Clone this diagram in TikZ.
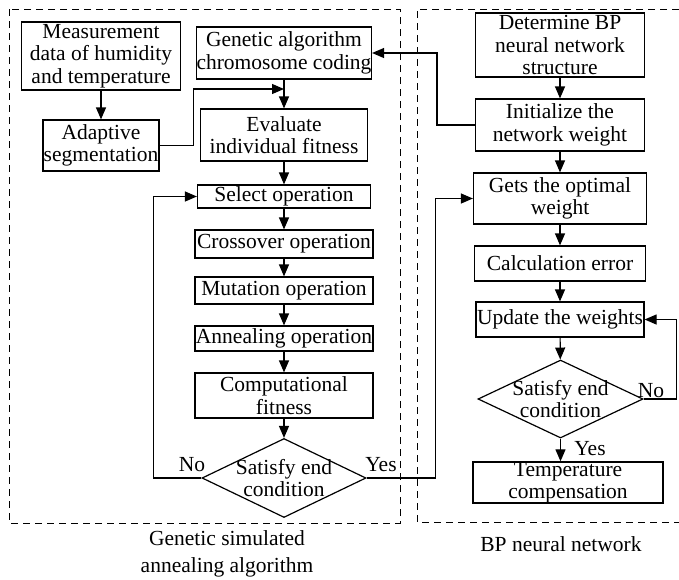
\documentclass[tikz,border=0pt]{standalone}
\usepackage{fontspec}
\setmainfont{Liberation Serif}
\usepackage{xcolor}
\usetikzlibrary{arrows.meta,shapes.geometric}

\begin{document}
\begin{tikzpicture}[x=1pt,y=-1pt,line width=1.2pt,>={Triangle[length=12pt,width=10pt]},
  every node/.style={font=\fontsize{21.5pt}{22.5pt}\selectfont},
  stepbox/.style={draw,align=center,inner sep=0pt},
  checkbox/.style={draw,diamond,align=center,inner sep=-8pt,aspect=2.08,minimum width=164pt,minimum height=79pt},
  answer/.style={inner sep=0pt},
  groupline/.style={line width=0.9pt,dash pattern=on 7pt off 5pt}]

\useasboundingbox (0,0) rectangle (679,579);

% 1
\node[stepbox,minimum width=159pt,minimum height=68pt] (GeneticA) at (101,56) {Measurement\\data of humidity\\and temperature};
\node[stepbox,minimum width=116pt,minimum height=51pt] (GeneticB) at (101,145.5) {Adaptive\\segmentation};
\node[stepbox,minimum width=175pt,minimum height=52pt] (GeneticC) at (284,53) {Genetic algorithm\\chromosome coding};
\node[stepbox,minimum width=167pt,minimum height=52pt] (GeneticD) at (284,135) {Evaluate\\individual fitness};
\node[stepbox,minimum width=173pt,minimum height=23pt] (GeneticE) at (284,196.5) {Select operation};
\node[stepbox,minimum width=178pt,minimum height=28pt] (GeneticF) at (284,244) {Crossover operation};
\node[stepbox,minimum width=178pt,minimum height=27pt] (GeneticG) at (284,290.5) {Mutation operation};
\node[stepbox,minimum width=178pt,minimum height=25pt] (GeneticH) at (284,338.5) {Annealing operation};
\node[stepbox,minimum width=178pt,minimum height=45pt] (GeneticI) at (284,395.5) {Computational\\fitness};
\node[checkbox] (GeneticJ) at (284,478) {Satisfy end\\condition};
\coordinate (JoinA) at (284,89);

\draw[->] (GeneticA) -- (GeneticB);
\draw[->] (GeneticC) -- (GeneticD);
\draw[->] (GeneticB.east) -- ++(34,0) |- (JoinA);
\draw[->] (GeneticD) -- (GeneticE);
\draw[->] (GeneticE) -- (GeneticF);
\draw[->] (GeneticF) -- (GeneticG);
\draw[->] (GeneticG) -- (GeneticH);
\draw[->] (GeneticH) -- (GeneticI);
\draw[->] (GeneticI) -- (GeneticJ);

\draw[->] (GeneticJ.west) -- ++(-48,0) |- (GeneticE.west);
\node[answer] (GeneticNo) at (192,465) {No};
\node[answer] (GeneticYes) at (381,465) {Yes};

\draw[groupline] (9,9) rectangle (400,523);
\node[align=center,font=\fontsize{21.5pt}{27pt}\selectfont] (GeneticCaption) at (227,554) {Genetic simulated\\annealing algorithm};


% 2
\node[stepbox,minimum width=169pt,minimum height=64pt] (NetworkA) at (560,45) {Determine BP\\neural network\\structure};
\node[stepbox,minimum width=169pt,minimum height=52pt] (NetworkB) at (560,125) {Initialize the\\network weight};
\node[stepbox,minimum width=173pt,minimum height=51pt] (NetworkC) at (560,198.5) {Gets the optimal\\weight};
\node[stepbox,minimum width=171pt,minimum height=35pt] (NetworkD) at (560,263.5) {Calculation error};
\node[stepbox,minimum width=168pt,minimum height=35pt] (NetworkE) at (560,319.5) {Update the weights};
\node[checkbox,minimum width=165pt,minimum height=78pt] (NetworkF) at (560.5,399) {Satisfy end\\condition};
\node[stepbox,minimum width=190pt,minimum height=41pt] (NetworkG) at (568,482.5) {Temperature\\compensation};

\draw[->] (NetworkA) -- (NetworkB);
\draw[->] (NetworkB) -- (NetworkC);
\draw[->] (NetworkC) -- (NetworkD);
\draw[->] (NetworkD) -- (NetworkE);
\draw[->] (NetworkE) -- (NetworkF);
\draw[->] (NetworkF.south) -- (NetworkF.south |- NetworkG.north);
\draw[->] (NetworkF.east) -- ++(33,0) |- (NetworkE.east);
\node[answer] (NetworkNo) at (651,391) {No};
\node[answer] (NetworkYes) at (590,449) {Yes};

% between the two
\draw[->] (NetworkB.west) -- ++(-38,0) |- (GeneticC.east);
\draw[->] (GeneticJ.east) -- ++(69,0) |- (NetworkC.west);

\draw[groupline] (679,9) -- (417,9) -- (417,522) -- (679,522);
\node (NetworkCaption) at (561,544) {BP neural network};

\end{tikzpicture}
\end{document}
